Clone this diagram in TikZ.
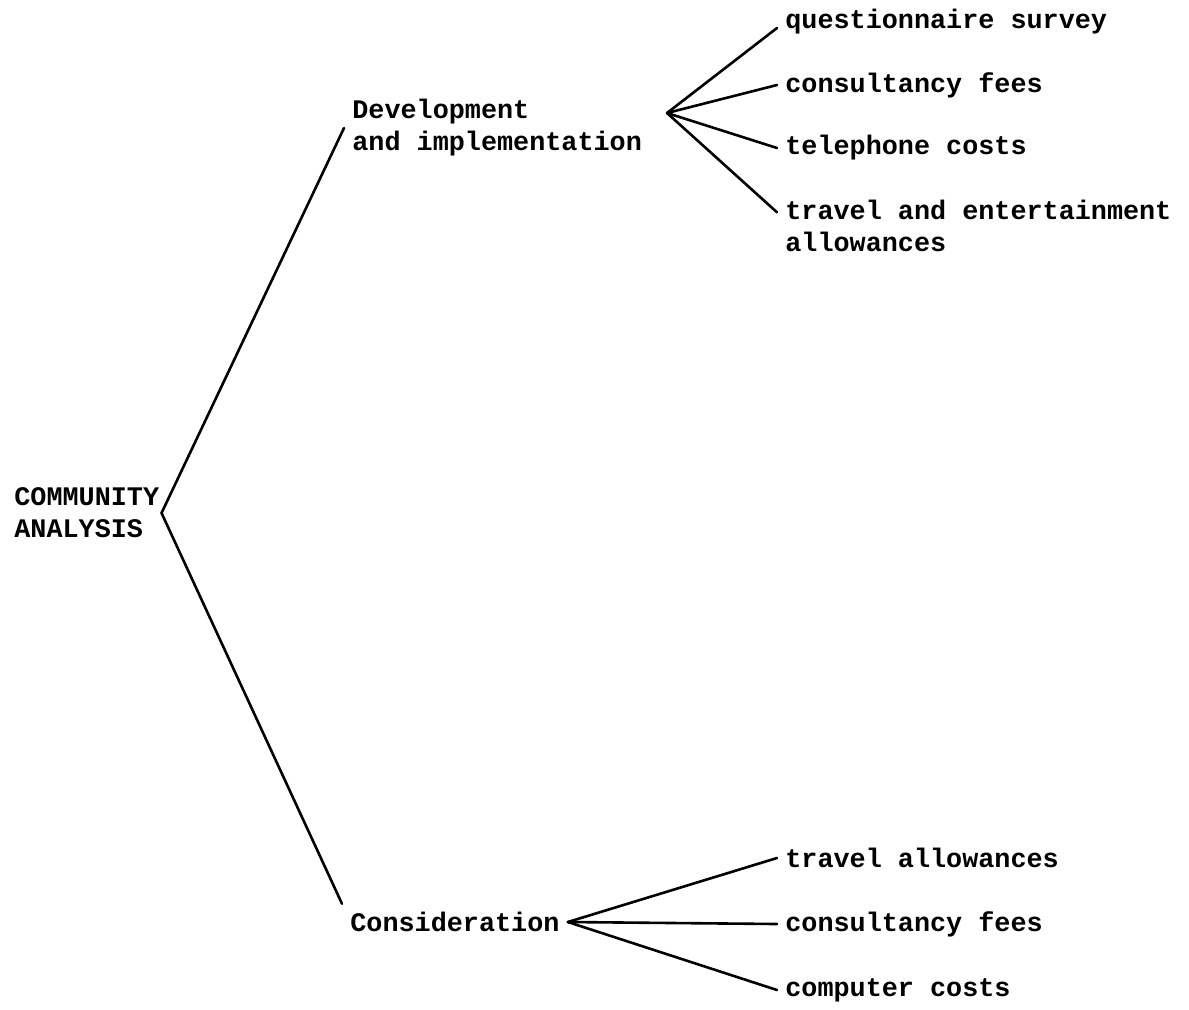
\documentclass[tikz,border=0pt]{standalone}
\usepackage{fontspec}
\setmonofont{Liberation Mono}
\usetikzlibrary{calc}
\tikzset{
    itemtext/.style={font=\ttfamily\bfseries\fontsize{13.4}{16}\selectfont, anchor=west, align=left, inner sep=4pt},
    branch/.style={black, line width=1.3pt, line cap=round}
}

\begin{document}
\begin{tikzpicture}[x=0.5pt, y=-0.5pt]
                \useasboundingbox (0,0) rectangle (1189,1009);

                % Root of the tree
                \node[itemtext, inner sep=1pt] (root) at (12,513) {COMMUNITY\\ANALYSIS};

                % Two main stages
                \node[itemtext] (dev) at (344,128) {Development\\and implementation};
                \node[itemtext] (cons) at (342,922) {Consideration};
                \draw[branch] (root.east) -- (dev.west);
                \draw[branch] (root.east) -- (cons.north west);

                % Cost items of the first stage
                \coordinate (devhub) at (667,113);
                \node[itemtext] (survey) at (777,22) {questionnaire survey};
                \node[itemtext] (fees1) at (777,85) {consultancy fees};
                \node[itemtext] (phone) at (777,148) {telephone costs};
                \node[itemtext] (travel1) at (777,226) {travel and entertainment\\allowances};
                \draw[branch] (devhub) -- ($(survey.west)+(0,6)$);
                \draw[branch] (devhub) -- (fees1.west);
                \draw[branch] (devhub) -- (phone.west);
                \draw[branch] (devhub) -- ($(travel1.north west)!0.3!(travel1.south west)$);

                % Cost items of the second stage
                \node[itemtext] (travel2) at (777,858) {travel allowances};
                \node[itemtext] (fees2) at (777,924) {consultancy fees};
                \node[itemtext] (computer) at (777,990) {computer costs};
                \foreach \leaf in {travel2,fees2,computer} {
                    \draw[branch] (cons.east) -- (\leaf.west);
                }
            \end{tikzpicture}
\end{document}
